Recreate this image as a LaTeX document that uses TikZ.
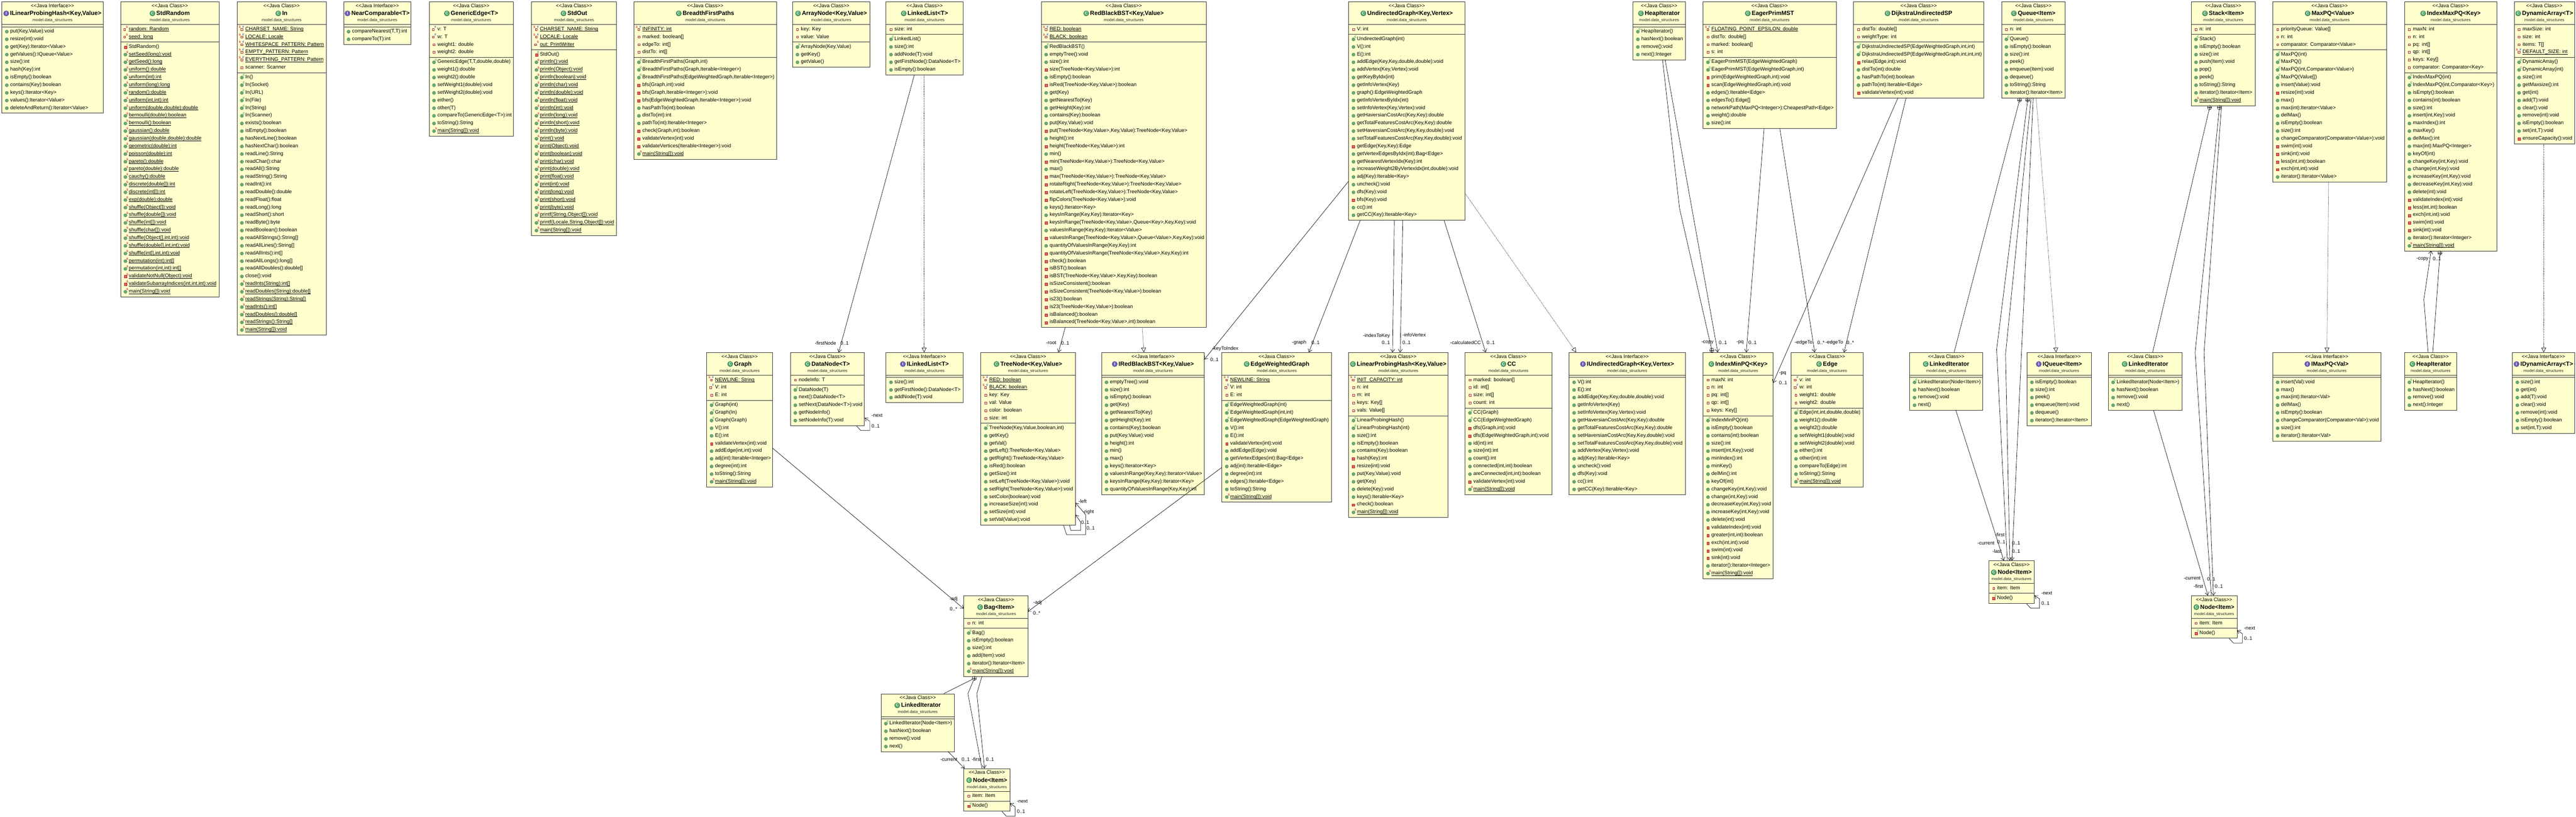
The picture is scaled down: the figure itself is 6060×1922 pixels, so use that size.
\documentclass[tikz,border=0pt]{standalone}
\usepackage{fontspec}
\setmainfont{Liberation Sans}
\usetikzlibrary{calc,arrows.meta}

\definecolor{boxfill}{RGB}{255,255,206}
\definecolor{boxline}{RGB}{55,55,55}
\definecolor{gfill}{RGB}{104,172,118}
\definecolor{gdraw}{RGB}{62,122,78}
\definecolor{rfill}{RGB}{226,98,98}
\definecolor{rdraw}{RGB}{172,44,44}
\definecolor{cgreen}{RGB}{30,150,50}
\definecolor{sred}{RGB}{215,30,60}
\definecolor{fblue}{RGB}{40,80,220}
\definecolor{clsicon}{RGB}{72,160,100}
\definecolor{ificon}{RGB}{108,92,192}

\tikzset{
 ubox/.style={draw=boxline, fill=boxfill, line width=1pt, rectangle, inner sep=0pt},
 usep/.style={draw=boxline, line width=1pt},
 ustereo/.style={anchor=base, inner sep=0pt, font=\fontsize{11.8}{13}\selectfont},
 utitle/.style={anchor=base, inner sep=0pt, font=\bfseries\fontsize{14}{16}\selectfont},
 upkg/.style={anchor=base, inner sep=0pt, font=\fontsize{9.5}{11}\selectfont, text=black!85},
 urow/.style={anchor=base west, inner sep=0pt, font=\fontsize{12}{14}\selectfont},
 uiconC/.style={circle, fill=clsicon, draw=clsicon!70!black, line width=.5pt, minimum size=12.6pt, inner sep=0pt, text=white, font=\bfseries\fontsize{9.5}{9.5}\selectfont},
 uiconI/.style={circle, fill=ificon, draw=ificon!70!black, line width=.5pt, minimum size=12.6pt, inner sep=0pt, text=white, font=\bfseries\fontsize{9.5}{9.5}\selectfont},
 usup/.style={inner sep=0pt, font=\bfseries\fontsize{6.5}{6.5}\selectfont},
 lbl/.style={inner sep=0pt, font=\fontsize{11.5}{13}\selectfont},
 assoc/.style={draw=black, line width=.8pt, -{Straight Barb[length=7pt,width=10pt,line width=.8pt]}},
 nestl/.style={draw=black, line width=.8pt},
 real/.style={draw=black, line width=.8pt, dash pattern=on 1.4pt off 1.6pt, -{Triangle[length=11pt,width=11pt,line width=.8pt,fill=white]}},
 nest/.style={circle, draw=black, fill=white, line width=.7pt, minimum size=10pt, inner sep=0pt,
   path picture={\draw[line width=.7pt] (path picture bounding box.north) -- (path picture bounding box.south) (path picture bounding box.west) -- (path picture bounding box.east);}},
}

% ---------- member icons ----------
\def\uul#1{\draw[line width=.6pt] ([yshift=-1.6pt]#1.base west) -- ([yshift=-1.6pt]#1.base east);}
\def\uip#1{\fill[gfill,draw=gdraw,line width=.5pt] ([xshift=-8pt,yshift=2.5pt]#1.base west) circle (3.8pt);}
\def\uiv#1{\fill[rfill,draw=rdraw,line width=.5pt] ([xshift=-11pt,yshift=-1pt]#1.base west) rectangle ++(6pt,6pt);}
\def\uic#1{\uip{#1}\node[usup,text=cgreen] (#1-c) at ([xshift=-3.3pt,yshift=8pt]#1.base west) {C};}
\def\uivc#1{\uiv{#1}\node[usup,text=cgreen] (#1-c) at ([xshift=-3.3pt,yshift=8pt]#1.base west) {C};}
\def\uis#1{\uip{#1}\node[usup,text=sred] (#1-c) at ([xshift=-3.3pt,yshift=8pt]#1.base west) {S};\uul{#1}}
\def\uivs#1{\uiv{#1}\node[usup,text=sred] (#1-c) at ([xshift=-3.3pt,yshift=8pt]#1.base west) {S};\uul{#1}}
\def\uisq#1#2{\draw[rdraw,fill=white,line width=.9pt] ([xshift=#2-2.2pt,yshift=.6pt]#1.base west) rectangle ++(4.4pt,4.4pt);}
\def\uif#1{\uisq{#1}{-8pt}}
\def\uisf#1{\uisq{#1}{-10pt}\node[usup,text=sred] (#1-c) at ([xshift=-4.5pt,yshift=8.5pt]#1.base west) {S};\uul{#1}}
\def\uiff#1{\uisq{#1}{-10pt}\node[usup,text=fblue] (#1-c) at ([xshift=-4.5pt,yshift=8.5pt]#1.base west) {F};}
\def\uisff#1{\uisq{#1}{-8.5pt}\node[usup,text=sred] (#1-c) at ([xshift=-13pt,yshift=8.5pt]#1.base west) {S};\node[usup,text=fblue] (#1-d) at ([xshift=-4.5pt,yshift=8.5pt]#1.base west) {F};\uul{#1}}

% ---------- class box ----------
\newcommand\umlbox[8]{%
  \pgfmathsetmacro\ubh{64+18*#7+18*#8}%
  \node[ubox, minimum width=#4pt, minimum height=\ubh pt, anchor=north west] (#1) at (#2,#3) {};
  \draw[usep] ($(#1.north west)+(0,54)$) -- ($(#1.north east)+(0,54)$);
  \draw[usep] ($(#1.north west)+(0,59+18*#7)$) -- ($(#1.north east)+(0,59+18*#7)$);
  \node[ustereo] (#1-st) at ($(#1.north)+(0,13.5)$) {<\kern0pt<Java \ifx C#5Class\else Interface\fi>\kern0pt>};
  \node[utitle] (#1-ti) at ($(#1.north)+(7.6,32)$) {#6};
  \node[uicon#5] (#1-ic) at ([xshift=-9pt,yshift=4.5pt]#1-ti.base west) {#5};
  \node[upkg] (#1-pk) at ($(#1.north)+(0,46.5)$) {model.data\_structures};
}
\newcommand\umlattrs[2]{%
  \foreach \mk/\mtxt [count=\mi] in {#2}{%
    \node[urow] (#1a\mi) at ($(#1.north west)+(20,50+18*\mi)$) {\mtxt};
    \csname ui\mk\endcsname{#1a\mi}%
  }}
\newcommand\umlmeths[3]{%
  \foreach \mk/\mtxt [count=\mi] in {#3}{%
    \node[urow] (#1m\mi) at ($(#1.north west)+(20,55+18*#2+18*\mi)$) {\mtxt};
    \csname ui\mk\endcsname{#1m\mi}%
  }}
\newcommand\lblE[4]{\node[lbl,anchor=east] (#1) at ($(#2.north west)+(#3)$) {#4};}
\newcommand\lblW[4]{\node[lbl,anchor=west] (#1) at ($(#2.north west)+(#3)$) {#4};}
\newcommand\selfloop[1]{%
  \draw[assoc] ($(#1.south east)+(-19,0)$) -- ($(#1.south east)+(-9,11)$) -- ($(#1.south east)+(12,11)$) -- ($(#1.south east)+(12,-11)$) -- ($(#1.south east)+(0,-19)$);
  \node[lbl,anchor=west] (#1-nx) at ($(#1.south east)+(16,-24)$) {-next};
  \node[lbl,anchor=west] (#1-nm) at ($(#1.south east)+(16,0)$) {0..1};}

\begin{document}
\begin{tikzpicture}[x=1pt,y=-1pt]
\path[use as bounding box, fill=white] (0,0) rectangle (6060,1922);

% ================= TOP ROW =================
\umlbox{ILP}{4}{4}{238}{I}{ILinearProbingHash<Key,Value>}{0}{11}
\umlmeths{ILP}{0}{p/{put(Key,Value):void}, p/{resize(int):void}, p/{get(Key):Iterator<Value>}, p/{getValues():IQueue<Value>}, p/{size():int}, p/{hash(Key):int}, p/{isEmpty():boolean}, p/{contains(Key):boolean}, p/{keys():Iterator<Key>}, p/{values():Iterator<Value>}, p/{deleteAndReturn():Iterator<Value>}}

\umlbox{SR}{283}{4}{232}{C}{StdRandom}{2}{33}
\umlattrs{SR}{sf/{random: Random}, sf/{seed: long}}
\umlmeths{SR}{2}{vc/{StdRandom()}, s/{setSeed(long):void}, s/{getSeed():long}, s/{uniform():double}, s/{uniform(int):int}, s/{uniform(long):long}, s/{random():double}, s/{uniform(int,int):int}, s/{uniform(double,double):double}, s/{bernoulli(double):boolean}, s/{bernoulli():boolean}, s/{gaussian():double}, s/{gaussian(double,double):double}, s/{geometric(double):int}, s/{poisson(double):int}, s/{pareto():double}, s/{pareto(double):double}, s/{cauchy():double}, s/{discrete(double[]):int}, s/{discrete(int[]):int}, s/{exp(double):double}, s/{shuffle(Object[]):void}, s/{shuffle(double[]):void}, s/{shuffle(int[]):void}, s/{shuffle(char[]):void}, s/{shuffle(Object[],int,int):void}, s/{shuffle(double[],int,int):void}, s/{shuffle(int[],int,int):void}, s/{permutation(int):int[]}, s/{permutation(int,int):int[]}, vs/{validateNotNull(Object):void}, vs/{validateSubarrayIndices(int,int,int):void}, s/{main(String[]):void}}

\umlbox{IN}{557}{4}{210}{C}{In}{6}{34}
\umlattrs{IN}{sff/{CHARSET\_NAME: String}, sff/{LOCALE: Locale}, sff/{WHITESPACE\_PATTERN: Pattern}, sff/{EMPTY\_PATTERN: Pattern}, sff/{EVERYTHING\_PATTERN: Pattern}, f/{scanner: Scanner}}
\umlmeths{IN}{6}{c/{In()}, c/{In(Socket)}, c/{In(URL)}, c/{In(File)}, c/{In(String)}, c/{In(Scanner)}, p/{exists():boolean}, p/{isEmpty():boolean}, p/{hasNextLine():boolean}, p/{hasNextChar():boolean}, p/{readLine():String}, p/{readChar():char}, p/{readAll():String}, p/{readString():String}, p/{readInt():int}, p/{readDouble():double}, p/{readFloat():float}, p/{readLong():long}, p/{readShort():short}, p/{readByte():byte}, p/{readBoolean():boolean}, p/{readAllStrings():String[]}, p/{readAllLines():String[]}, p/{readAllInts():int[]}, p/{readAllLongs():long[]}, p/{readAllDoubles():double[]}, p/{close():void}, s/{readInts(String):int[]}, s/{readDoubles(String):double[]}, s/{readStrings(String):String[]}, s/{readInts():int[]}, s/{readDoubles():double[]}, s/{readStrings():String[]}, s/{main(String[]):void}}

\umlbox{NC}{808}{4}{158}{I}{NearComparable<T>}{0}{2}
\umlmeths{NC}{0}{p/{compareNearest(T,T):int}, p/{compareTo(T):int}}

\umlbox{GE}{1009}{4}{198}{C}{GenericEdge<T>}{4}{10}
\umlattrs{GE}{ff/{v: T}, ff/{w: T}, f/{weight1: double}, f/{weight2: double}}
\umlmeths{GE}{4}{c/{GenericEdge(T,T,double,double)}, p/{weight1():double}, p/{weight2():double}, p/{setWeight1(double):void}, p/{setWeight2(double):void}, p/{either()}, p/{other(T)}, p/{compareTo(GenericEdge<T>):int}, p/{toString():String}, s/{main(String[]):void}}

\umlbox{SO}{1250}{4}{200}{C}{StdOut}{3}{24}
\umlattrs{SO}{sff/{CHARSET\_NAME: String}, sff/{LOCALE: Locale}, sf/{out: PrintWriter}}
\umlmeths{SO}{3}{vc/{StdOut()}, s/{println():void}, s/{println(Object):void}, s/{println(boolean):void}, s/{println(char):void}, s/{println(double):void}, s/{println(float):void}, s/{println(int):void}, s/{println(long):void}, s/{println(short):void}, s/{println(byte):void}, s/{print():void}, s/{print(Object):void}, s/{print(boolean):void}, s/{print(char):void}, s/{print(double):void}, s/{print(float):void}, s/{print(int):void}, s/{print(long):void}, s/{print(short):void}, s/{print(byte):void}, s/{printf(String,Object[]):void}, s/{printf(Locale,String,Object[]):void}, s/{main(String[]):void}}

\umlbox{BFP}{1491}{4}{335}{C}{BreadthFirstPaths}{4}{13}
\umlattrs{BFP}{sff/{INFINITY: int}, f/{marked: boolean[]}, f/{edgeTo: int[]}, f/{distTo: int[]}}
\umlmeths{BFP}{4}{c/{BreadthFirstPaths(Graph,int)}, c/{BreadthFirstPaths(Graph,Iterable<Integer>)}, c/{BreadthFirstPaths(EdgeWeightedGraph,Iterable<Integer>)}, v/{bfs(Graph,int):void}, v/{bfs(Graph,Iterable<Integer>):void}, v/{bfs(EdgeWeightedGraph,Iterable<Integer>):void}, p/{hasPathTo(int):boolean}, p/{distTo(int):int}, p/{pathTo(int):Iterable<Integer>}, v/{check(Graph,int):boolean}, v/{validateVertex(int):void}, v/{validateVertices(Iterable<Integer>):void}, s/{main(String[]):void}}

\umlbox{AN}{1864}{4}{182}{C}{ArrayNode<Key,Value>}{2}{3}
\umlattrs{AN}{f/{key: Key}, f/{value: Value}}
\umlmeths{AN}{2}{c/{ArrayNode(Key,Value)}, p/{getKey()}, p/{getValue()}}

\umlbox{LL}{2084}{4}{181}{C}{LinkedList<T>}{1}{5}
\umlattrs{LL}{f/{size: int}}
\umlmeths{LL}{1}{c/{LinkedList()}, p/{size():int}, p/{addNode(T):void}, p/{getFirstNode():DataNode<T>}, p/{isEmpty():boolean}}

\umlbox{RBB}{2449}{4}{388}{C}{RedBlackBST<Key,Value>}{2}{37}
\umlattrs{RBB}{sff/{RED: boolean}, sff/{BLACK: boolean}}
\umlmeths{RBB}{2}{c/{RedBlackBST()}, p/{emptyTree():void}, p/{size():int}, v/{size(TreeNode<Key,Value>):int}, p/{isEmpty():boolean}, v/{isRed(TreeNode<Key,Value>):boolean}, p/{get(Key)}, p/{getNearestTo(Key)}, p/{getHeight(Key):int}, p/{contains(Key):boolean}, p/{put(Key,Value):void}, v/{put(TreeNode<Key,Value>,Key,Value):TreeNode<Key,Value>}, p/{height():int}, v/{height(TreeNode<Key,Value>):int}, p/{min()}, v/{min(TreeNode<Key,Value>):TreeNode<Key,Value>}, p/{max()}, v/{max(TreeNode<Key,Value>):TreeNode<Key,Value>}, v/{rotateRight(TreeNode<Key,Value>):TreeNode<Key,Value>}, v/{rotateLeft(TreeNode<Key,Value>):TreeNode<Key,Value>}, v/{flipColors(TreeNode<Key,Value>):void}, p/{keys():Iterator<Key>}, p/{keysInRange(Key,Key):Iterator<Key>}, v/{keysInRange(TreeNode<Key,Value>,Queue<Key>,Key,Key):void}, p/{valuesInRange(Key,Key):Iterator<Value>}, v/{valuesInRange(TreeNode<Key,Value>,Queue<Value>,Key,Key):void}, p/{quantityOfValuesInRange(Key,Key):int}, v/{quantityOfValuesInRange(TreeNode<Key,Value>,Key,Key):int}, v/{check():boolean}, v/{isBST():boolean}, v/{isBST(TreeNode<Key,Value>,Key,Key):boolean}, v/{isSizeConsistent():boolean}, v/{isSizeConsistent(TreeNode<Key,Value>):boolean}, v/{is23():boolean}, v/{is23(TreeNode<Key,Value>):boolean}, v/{isBalanced():boolean}, v/{isBalanced(TreeNode<Key,Value>,int):boolean}}

\umlbox{UG}{3172}{4}{274}{C}{UndirectedGraph<Key,Vertex>}{1}{24}
\umlattrs{UG}{f/{V: int}}
\umlmeths{UG}{1}{c/{UndirectedGraph(int)}, p/{V():int}, p/{E():int}, p/{addEdge(Key,Key,double,double):void}, p/{addVertex(Key,Vertex):void}, p/{getKeyByIdx(int)}, p/{getInfoVertex(Key)}, p/{graph():EdgeWeightedGraph}, p/{getInfoVertexByIdx(int)}, p/{setInfoVertex(Key,Vertex):void}, p/{getHaversianCostArc(Key,Key):double}, p/{getTotalFeaturesCostArc(Key,Key):double}, p/{setHaversianCostArc(Key,Key,double):void}, p/{setTotalFeaturesCostArc(Key,Key,double):void}, v/{getEdge(Key,Key):Edge}, p/{getVertexEdgesByIdx(int):Bag<Edge>}, p/{getNearestVertexIdx(Key):int}, p/{increaseWeight2ByVertexIdx(int,double):void}, p/{adj(Key):Iterable<Key>}, p/{uncheck():void}, p/{dfs(Key):void}, v/{bfs(Key):void}, p/{cc():int}, p/{getCC(Key):Iterable<Key>}}

\umlbox{HIt}{3841}{4}{123}{C}{HeapIterator}{0}{4}
\umlmeths{HIt}{0}{c/{HeapIterator()}, p/{hasNext():boolean}, p/{remove():void}, p/{next():Integer}}

\umlbox{EPM}{4006}{4}{313}{C}{EagerPrimMST}{4}{9}
\umlattrs{EPM}{sff/{FLOATING\_POINT\_EPSILON: double}, f/{distTo: double[]}, f/{marked: boolean[]}, f/{s: int}}
\umlmeths{EPM}{4}{c/{EagerPrimMST(EdgeWeightedGraph)}, c/{EagerPrimMST(EdgeWeightedGraph,int)}, v/{prim(EdgeWeightedGraph,int):void}, v/{scan(EdgeWeightedGraph,int):void}, p/{edges():Iterable<Edge>}, p/{edgesTo():Edge[]}, p/{networkPath(MaxPQ<Integer>):CheapestPath<Edge>}, p/{weight():double}, p/{size():int}}

\umlbox{DSP}{4360}{4}{306}{C}{DijkstraUndirectedSP}{2}{7}
\umlattrs{DSP}{f/{distTo: double[]}, f/{weightType: int}}
\umlmeths{DSP}{2}{c/{DijkstraUndirectedSP(EdgeWeightedGraph,int,int)}, c/{DijkstraUndirectedSP(EdgeWeightedGraph,int,int,int)}, v/{relax(Edge,int):void}, p/{distTo(int):double}, p/{hasPathTo(int):boolean}, p/{pathTo(int):Iterable<Edge>}, v/{validateVertex(int):void}}

\umlbox{Q}{4708}{4}{150}{C}{Queue<Item>}{1}{8}
\umlattrs{Q}{f/{n: int}}
\umlmeths{Q}{1}{c/{Queue()}, p/{isEmpty():boolean}, p/{size():int}, p/{peek()}, p/{enqueue(Item):void}, p/{dequeue()}, p/{toString():String}, p/{iterator():Iterator<Item>}}

\umlbox{St}{5154}{4}{151}{C}{Stack<Item>}{1}{9}
\umlattrs{St}{f/{n: int}}
\umlmeths{St}{1}{c/{Stack()}, p/{isEmpty():boolean}, p/{size():int}, p/{push(Item):void}, p/{pop()}, p/{peek()}, p/{toString():String}, p/{iterator():Iterator<Item>}, s/{main(String[]):void}}

\umlbox{MPQ}{5346}{4}{268}{C}{MaxPQ<Value>}{3}{17}
\umlattrs{MPQ}{f/{priorityQueue: Value[]}, f/{n: int}, f/{comparator: Comparator<Value>}}
\umlmeths{MPQ}{3}{c/{MaxPQ(int)}, c/{MaxPQ()}, c/{MaxPQ(int,Comparator<Value>)}, c/{MaxPQ(Value[])}, p/{insert(Value):void}, v/{resize(int):void}, p/{max()}, p/{max(int):Iterator<Value>}, p/{delMax()}, p/{isEmpty():boolean}, p/{size():int}, p/{changeComparator(Comparator<Value>):void}, v/{swim(int):void}, v/{sink(int):void}, v/{less(int,int):boolean}, v/{exch(int,int):void}, p/{iterator():Iterator<Value>}}

\umlbox{IMX}{5656}{4}{217}{C}{IndexMaxPQ<Key>}{6}{23}
\umlattrs{IMX}{f/{maxN: int}, f/{n: int}, f/{pq: int[]}, f/{qp: int[]}, f/{keys: Key[]}, f/{comparator: Comparator<Key>}}
\umlmeths{IMX}{6}{c/{IndexMaxPQ(int)}, c/{IndexMaxPQ(int,Comparator<Key>)}, p/{isEmpty():boolean}, p/{contains(int):boolean}, p/{size():int}, p/{insert(int,Key):void}, p/{maxIndex():int}, p/{maxKey()}, p/{delMax():int}, p/{max(int):MaxPQ<Integer>}, p/{keyOf(int)}, p/{changeKey(int,Key):void}, p/{change(int,Key):void}, p/{increaseKey(int,Key):void}, p/{decreaseKey(int,Key):void}, p/{delete(int):void}, v/{validateIndex(int):void}, v/{less(int,int):boolean}, v/{exch(int,int):void}, v/{swim(int):void}, v/{sink(int):void}, p/{iterator():Iterator<Integer>}, s/{main(String[]):void}}

\umlbox{DA}{5914}{4}{142}{C}{DynamicArray<T>}{4}{11}
\umlattrs{DA}{f/{maxSize: int}, f/{size: int}, f/{items: T[]}, sff/{DEFAULT\_SIZE: int}}
\umlmeths{DA}{4}{c/{DynamicArray()}, c/{DynamicArray(int)}, p/{size():int}, p/{getMaxsize():int}, p/{get(int)}, p/{add(T):void}, p/{clear():void}, p/{remove(int):void}, p/{isEmpty():boolean}, p/{set(int,T):void}, v/{ensureCapacity():void}}

% ================= SECOND ROW =================
\umlbox{G}{1662}{829}{155}{C}{Graph}{3}{11}
\umlattrs{G}{sff/{NEWLINE: String}, ff/{V: int}, f/{E: int}}
\umlmeths{G}{3}{c/{Graph(int)}, c/{Graph(In)}, c/{Graph(Graph)}, p/{V():int}, p/{E():int}, v/{validateVertex(int):void}, p/{addEdge(int,int):void}, p/{adj(int):Iterable<Integer>}, p/{degree(int):int}, p/{toString():String}, s/{main(String[]):void}}

\umlbox{DN}{1859}{829}{174}{C}{DataNode<T>}{1}{5}
\umlattrs{DN}{f/{nodeInfo: T}}
\umlmeths{DN}{1}{c/{DataNode(T)}, p/{next():DataNode<T>}, p/{setNext(DataNode<T>):void}, p/{getNodeInfo()}, p/{setNodeInfo(T):void}}

\umlbox{ILL}{2084}{829}{181}{I}{ILinkedList<T>}{0}{3}
\umlmeths{ILL}{0}{p/{size():int}, p/{getFirstNode():DataNode<T>}, p/{addNode(T):void}}

\umlbox{TN}{2307}{829}{222}{C}{TreeNode<Key,Value>}{6}{13}
\umlattrs{TN}{sff/{RED: boolean}, sff/{BLACK: boolean}, f/{key: Key}, f/{val: Value}, f/{color: boolean}, f/{size: int}}
\umlmeths{TN}{6}{c/{TreeNode(Key,Value,boolean,int)}, p/{getKey()}, p/{getVal()}, p/{getLeft():TreeNode<Key,Value>}, p/{getRight():TreeNode<Key,Value>}, p/{isRed():boolean}, p/{getSize():int}, p/{setLeft(TreeNode<Key,Value>):void}, p/{setRight(TreeNode<Key,Value>):void}, p/{setColor(boolean):void}, p/{increaseSize(int):void}, p/{setSize(int):void}, p/{setVal(Value):void}}

\umlbox{IRB}{2591}{829}{242}{I}{IRedBlackBST<Key,Value>}{0}{15}
\umlmeths{IRB}{0}{p/{emptyTree():void}, p/{size():int}, p/{isEmpty():boolean}, p/{get(Key)}, p/{getNearestTo(Key)}, p/{getHeight(Key):int}, p/{contains(Key):boolean}, p/{put(Key,Value):void}, p/{height():int}, p/{min()}, p/{max()}, p/{keys():Iterator<Key>}, p/{valuesInRange(Key,Key):Iterator<Value>}, p/{keysInRange(Key,Key):Iterator<Key>}, p/{quantityOfValuesInRange(Key,Key):int}}

\umlbox{EWG}{2874}{829}{258}{C}{EdgeWeightedGraph}{3}{13}
\umlattrs{EWG}{sff/{NEWLINE: String}, ff/{V: int}, f/{E: int}}
\umlmeths{EWG}{3}{c/{EdgeWeightedGraph(int)}, c/{EdgeWeightedGraph(int,int)}, c/{EdgeWeightedGraph(EdgeWeightedGraph)}, p/{V():int}, p/{E():int}, v/{validateVertex(int):void}, p/{addEdge(Edge):void}, p/{getVertexEdges(int):Bag<Edge>}, p/{adj(int):Iterable<Edge>}, p/{degree(int):int}, p/{edges():Iterable<Edge>}, p/{toString():String}, s/{main(String[]):void}}

\umlbox{LPH}{3172}{829}{234}{C}{LinearProbingHash<Key,Value>}{5}{13}
\umlattrs{LPH}{sff/{INIT\_CAPACITY: int}, f/{n: int}, f/{m: int}, f/{keys: Key[]}, f/{vals: Value[]}}
\umlmeths{LPH}{5}{c/{LinearProbingHash()}, c/{LinearProbingHash(int)}, p/{size():int}, p/{isEmpty():boolean}, p/{contains(Key):boolean}, v/{hash(Key):int}, v/{resize(int):void}, p/{put(Key,Value):void}, p/{get(Key)}, p/{delete(Key):void}, p/{keys():Iterable<Key>}, v/{check():boolean}, s/{main(String[]):void}}

\umlbox{CC}{3446}{829}{204}{C}{CC}{4}{11}
\umlattrs{CC}{f/{marked: boolean[]}, f/{id: int[]}, f/{size: int[]}, f/{count: int}}
\umlmeths{CC}{4}{c/{CC(Graph)}, c/{CC(EdgeWeightedGraph)}, v/{dfs(Graph,int):void}, v/{dfs(EdgeWeightedGraph,int):void}, p/{id(int):int}, p/{size(int):int}, p/{count():int}, p/{connected(int,int):boolean}, p/{areConnected(int,int):boolean}, v/{validateVertex(int):void}, s/{main(String[]):void}}

\umlbox{IUG}{3691}{829}{273}{I}{IUndirectedGraph<Key,Vertex>}{0}{15}
\umlmeths{IUG}{0}{p/{V():int}, p/{E():int}, p/{addEdge(Key,Key,double,double):void}, p/{getInfoVertex(Key)}, p/{setInfoVertex(Key,Vertex):void}, p/{getHaversianCostArc(Key,Key):double}, p/{getTotalFeaturesCostArc(Key,Key):double}, p/{setHaversianCostArc(Key,Key,double):void}, p/{setTotalFeaturesCostArc(Key,Key,double):void}, p/{addVertex(Key,Vertex):void}, p/{adj(Key):Iterable<Key>}, p/{uncheck():void}, p/{dfs(Key):void}, p/{cc():int}, p/{getCC(Key):Iterable<Key>}}

\umlbox{IMN}{4006}{829}{165}{C}{IndexMinPQ<Key>}{5}{21}
\umlattrs{IMN}{f/{maxN: int}, f/{n: int}, f/{pq: int[]}, f/{qp: int[]}, f/{keys: Key[]}}
\umlmeths{IMN}{5}{c/{IndexMinPQ(int)}, p/{isEmpty():boolean}, p/{contains(int):boolean}, p/{size():int}, p/{insert(int,Key):void}, p/{minIndex():int}, p/{minKey()}, p/{delMin():int}, p/{keyOf(int)}, p/{changeKey(int,Key):void}, p/{change(int,Key):void}, p/{decreaseKey(int,Key):void}, p/{increaseKey(int,Key):void}, p/{delete(int):void}, v/{validateIndex(int):void}, v/{greater(int,int):boolean}, v/{exch(int,int):void}, v/{swim(int):void}, v/{sink(int):void}, p/{iterator():Iterator<Integer>}, s/{main(String[]):void}}

\umlbox{Ed}{4213}{829}{169}{C}{Edge}{4}{10}
\umlattrs{Ed}{ff/{v: int}, ff/{w: int}, f/{weight1: double}, f/{weight2: double}}
\umlmeths{Ed}{4}{c/{Edge(int,int,double,double)}, p/{weight1():double}, p/{weight2():double}, p/{setWeight1(double):void}, p/{setWeight2(double):void}, p/{either():int}, p/{other(int):int}, p/{compareTo(Edge):int}, p/{toString():String}, s/{main(String[]):void}}

\umlbox{LIq}{4492}{829}{172}{C}{LinkedIterator}{0}{4}
\umlmeths{LIq}{0}{c/{LinkedIterator(Node<Item>)}, p/{hasNext():boolean}, p/{remove():void}, p/{next()}}

\umlbox{IQ}{4768}{829}{151}{I}{IQueue<Item>}{0}{6}
\umlmeths{IQ}{0}{p/{isEmpty():boolean}, p/{size():int}, p/{peek()}, p/{enqueue(Item):void}, p/{dequeue()}, p/{iterator():Iterator<Item>}}

\umlbox{LIs}{4959}{829}{174}{C}{LinkedIterator}{0}{4}
\umlmeths{LIs}{0}{c/{LinkedIterator(Node<Item>)}, p/{hasNext():boolean}, p/{remove():void}, p/{next()}}

\umlbox{IMP}{5346}{829}{254}{I}{IMaxPQ<Val>}{0}{8}
\umlmeths{IMP}{0}{p/{insert(Val):void}, p/{max()}, p/{max(int):Iterator<Val>}, p/{delMax()}, p/{isEmpty():boolean}, p/{changeComparator(Comparator<Val>):void}, p/{size():int}, p/{iterator():Iterator<Val>}}

\umlbox{HIb}{5656}{829}{123}{C}{HeapIterator}{0}{4}
\umlmeths{HIb}{0}{c/{HeapIterator()}, p/{hasNext():boolean}, p/{remove():void}, p/{next():Integer}}

\umlbox{IDA}{5910}{829}{146}{I}{IDynamicArray<T>}{0}{7}
\umlmeths{IDA}{0}{p/{size():int}, p/{get(int)}, p/{add(T):void}, p/{clear():void}, p/{remove(int):void}, p/{isEmpty():boolean}, p/{set(int,T):void}}

% ================= LOWER =================
\umlbox{Bag}{2267}{1401}{151}{C}{Bag<Item>}{1}{6}
\umlattrs{Bag}{f/{n: int}}
\umlmeths{Bag}{1}{c/{Bag()}, p/{isEmpty():boolean}, p/{size():int}, p/{add(Item):void}, p/{iterator():Iterator<Item>}, s/{main(String[]):void}}

\umlbox{LIb}{2072}{1632}{173}{C}{LinkedIterator}{0}{4}
\umlmeths{LIb}{0}{c/{LinkedIterator(Node<Item>)}, p/{hasNext():boolean}, p/{remove():void}, p/{next()}}

\umlbox{Nb}{2267}{1808}{108}{C}{Node<Item>}{1}{1}
\umlattrs{Nb}{f/{item: Item}}
\umlmeths{Nb}{1}{vc/{Node()}}

\umlbox{Nq}{4678}{1319}{107}{C}{Node<Item>}{1}{1}
\umlattrs{Nq}{f/{item: Item}}
\umlmeths{Nq}{1}{vc/{Node()}}

\umlbox{Ns}{5154}{1401}{108}{C}{Node<Item>}{1}{1}
\umlattrs{Ns}{f/{item: Item}}
\umlmeths{Ns}{1}{vc/{Node()}}

% ================= NESTING SYMBOLS =================
\node[nest] (nBag) at ($(Bag.north west)+(25,195)$) {};
\node[nest] (nIMN) at ($(IMN.north west)+(21,-5)$) {};
\node[nest] (nQ1) at ($(Q.north west)+(43,231)$) {};
\node[nest] (nQ2) at ($(Q.north west)+(62,231)$) {};
\node[nest] (nSt1) at ($(St.north west)+(44,249)$) {};
\node[nest] (nSt2) at ($(St.north west)+(67,249)$) {};
\node[nest] (nIMX) at ($(IMX.north west)+(84,591)$) {};

\draw[nestl] (nBag) -- ($(LIb.north west)+(148,0)$);
\draw[nestl] (nBag) -- (2277,1632) -- ($(Nb.north west)+(43,0)$);
\draw[nestl] ($(HIt.north west)+(70,136)$) -- (3951,490) -- (nIMN);
\draw[nestl] (nQ1) -- ($(LIq.north west)+(105,0)$);
\draw[nestl] (nQ2) -- (4697,822) -- ($(Nq.north west)+(44,0)$);
\draw[nestl] (nSt1) -- ($(LIs.north west)+(105,0)$);
\draw[nestl] (nSt2) -- (5164,829) -- ($(Ns.north west)+(48,0)$);
\draw[nestl] ($(HIb.north west)+(67,0)$) -- (nIMX);

% ================= REALIZATIONS =================
\draw[real] ($(LL.north west)+(90,172)$) -- ($(ILL.north west)+(90,0)$);
\draw[real] ($(RBB.north west)+(238,766)$) -- ($(IRB.north west)+(100,0)$);
\draw[real] ($(UG.north west)+(274,450)$) -- ($(IUG.north west)+(17,0)$);
\draw[real] ($(Q.north west)+(82,226)$) -- ($(IQ.north west)+(69,0)$);
\draw[real] ($(MPQ.north west)+(132,424)$) -- ($(IMP.north west)+(128,0)$);
\draw[real] ($(DA.north west)+(70,334)$) -- ($(IDA.north west)+(74,0)$);

% ================= ASSOCIATIONS =================
\draw[assoc] ($(LL.north west)+(67,172)$) -- ($(DN.north west)+(114,0)$);
\lblE{l1}{DN}{108,-22}{-firstNode}
\lblW{l2}{DN}{118,-22}{0..1}
\selfloop{DN}

\draw[assoc] ($(G.north west)+(155,225)$) -- ($(Bag.north west)+(0,31)$);
\lblE{l3}{Bag}{-14,8}{-adj}
\lblE{l4}{Bag}{-15,32}{0..*}
\draw[assoc] ($(EWG.north west)+(0,271)$) -- ($(Bag.north west)+(151,38)$);
\lblW{l5}{Bag}{164,17}{-adj}
\lblW{l6}{Bag}{163,41}{0..*}

\draw[assoc] ($(RBB.north west)+(57,766)$) -- ($(TN.north west)+(183,0)$);
\lblE{l7}{TN}{178,-22}{-root}
\lblW{l8}{TN}{189,-22}{0..1}
\draw[assoc] ($(TN.south east)+(-28,0)$) -- ($(TN.south east)+(-21,22)$) -- ($(TN.south east)+(24,22)$) -- ($(TN.south east)+(24,-25)$) -- ($(TN.south east)+(0,-53)$);
\draw[assoc] ($(TN.south east)+(-14,0)$) -- ($(TN.south east)+(-11,12)$) -- ($(TN.south east)+(12,12)$) -- ($(TN.south east)+(12,-8)$) -- ($(TN.south east)+(0,-25)$);
\node[lbl,anchor=west] (l9) at ($(TN.south east)+(7,-57)$) {-left};
\node[lbl,anchor=west] (l10) at ($(TN.south east)+(17,-31)$) {-right};
\node[lbl,anchor=west] (l11) at ($(TN.south east)+(13,-7)$) {0..1};
\node[lbl,anchor=west] (l12) at ($(TN.south east)+(26,6)$) {0..1};

\draw[assoc] ($(UG.north west)+(0,423)$) -- ($(IRB.north west)+(242,17)$);
\lblW{l13}{IRB}{260,-8}{-keyToIndex}
\lblW{l14}{IRB}{256,17}{0..1}
\draw[assoc] ($(UG.north west)+(28,514)$) -- ($(EWG.north west)+(205,0)$);
\lblE{l15}{EWG}{199,-23}{-graph}
\lblW{l16}{EWG}{211,-23}{0..1}
\draw[assoc] ($(UG.north west)+(108,514)$) -- ($(LPH.north west)+(104,0)$);
\lblE{l17}{LPH}{98,-39}{-indexToKey}
\lblE{l18}{LPH}{98,-23}{0..1}
\draw[assoc] ($(UG.north west)+(128,514)$) -- ($(LPH.north west)+(122,0)$);
\lblW{l19}{LPH}{127,-41}{-infoVertex}
\lblW{l20}{LPH}{127,-23}{0..1}
\draw[assoc] ($(UG.north west)+(225,514)$) -- ($(CC.north west)+(49,0)$);
\lblE{l21}{CC}{38,-23}{-calculatedCC}
\lblW{l22}{CC}{51,-23}{0..1}

\draw[assoc] ($(Bag.north west)+(43,190)$) -- (2298,1632) -- ($(Nb.north west)+(49,0)$);
\draw[assoc] ($(LIb.north west)+(158,136)$) -- ($(Nb.north west)+(2,0)$);
\lblE{l23}{Nb}{-15,-21}{-current}
\lblW{l24}{Nb}{-5,-21}{0..1}
\lblW{l25}{Nb}{19,-21}{-first}
\lblW{l26}{Nb}{52,-21}{0..1}
\selfloop{Nb}

\draw[assoc] ($(HIt.north west)+(76,136)$) -- ($(IMN.north west)+(35,0)$);
\lblE{l27}{IMN}{25,-23}{-copy}
\lblW{l28}{IMN}{37,-23}{0..1}
\draw[assoc] ($(EPM.north west)+(144,298)$) -- ($(IMN.north west)+(102,0)$);
\lblE{l29}{IMN}{96,-23}{-pq}
\lblW{l30}{IMN}{107,-23}{0..1}
\draw[assoc] ($(EPM.north west)+(181,298)$) -- ($(Ed.north west)+(56,0)$);
\lblE{l31}{Ed}{51,-23}{-edgeTo}
\lblW{l32}{Ed}{62,-23}{0..*}
\draw[assoc] ($(DSP.north west)+(105,226)$) -- ($(IMN.north west)+(165,72)$);
\lblW{l33}{IMN}{179,49}{-pq}
\lblW{l34}{IMN}{179,72}{0..1}
\draw[assoc] ($(DSP.north west)+(124,226)$) -- ($(Ed.north west)+(125,0)$);
\lblE{l35}{Ed}{123,-23}{-edgeTo}
\lblW{l36}{Ed}{131,-23}{0..*}

\draw[assoc] ($(Q.north west)+(70,226)$) -- (4718,833) -- ($(Nq.north west)+(50,0)$);
\draw[assoc] ($(Q.north west)+(75,226)$) -- ($(Nq.north west)+(55,0)$);
\draw[assoc] ($(LIq.north west)+(109,136)$) -- ($(Nq.north west)+(36,0)$);
\lblW{l37}{Nq}{15,-61}{-first}
\lblW{l38}{Nq}{20,-44}{0..1}
\lblE{l39}{Nq}{14,-41}{-current}
\lblW{l40}{Nq}{9,-22}{-last}
\lblW{l41}{Nq}{55,-41}{0..1}
\lblW{l42}{Nq}{55,-22}{0..1}
\selfloop{Nq}

\draw[assoc] ($(St.north west)+(72,244)$) -- (5185,829) -- ($(Ns.north west)+(53,0)$);
\draw[assoc] ($(LIs.north west)+(107,136)$) -- ($(Ns.north west)+(40,0)$);
\lblE{l43}{Ns}{23,-40}{-current}
\lblW{l44}{Ns}{38,-38}{0..1}
\lblE{l45}{Ns}{29,-22}{-first}
\lblW{l46}{Ns}{56,-22}{0..1}
\selfloop{Ns}

\draw[assoc] ($(HIb.north west)+(56,0)$) -- (5702,705) -- ($(IMX.north west)+(63,586)$);
\lblE{l47}{IMX}{57,605}{-copy}
\lblW{l48}{IMX}{67,605}{0..1}

\end{tikzpicture}
\end{document}
